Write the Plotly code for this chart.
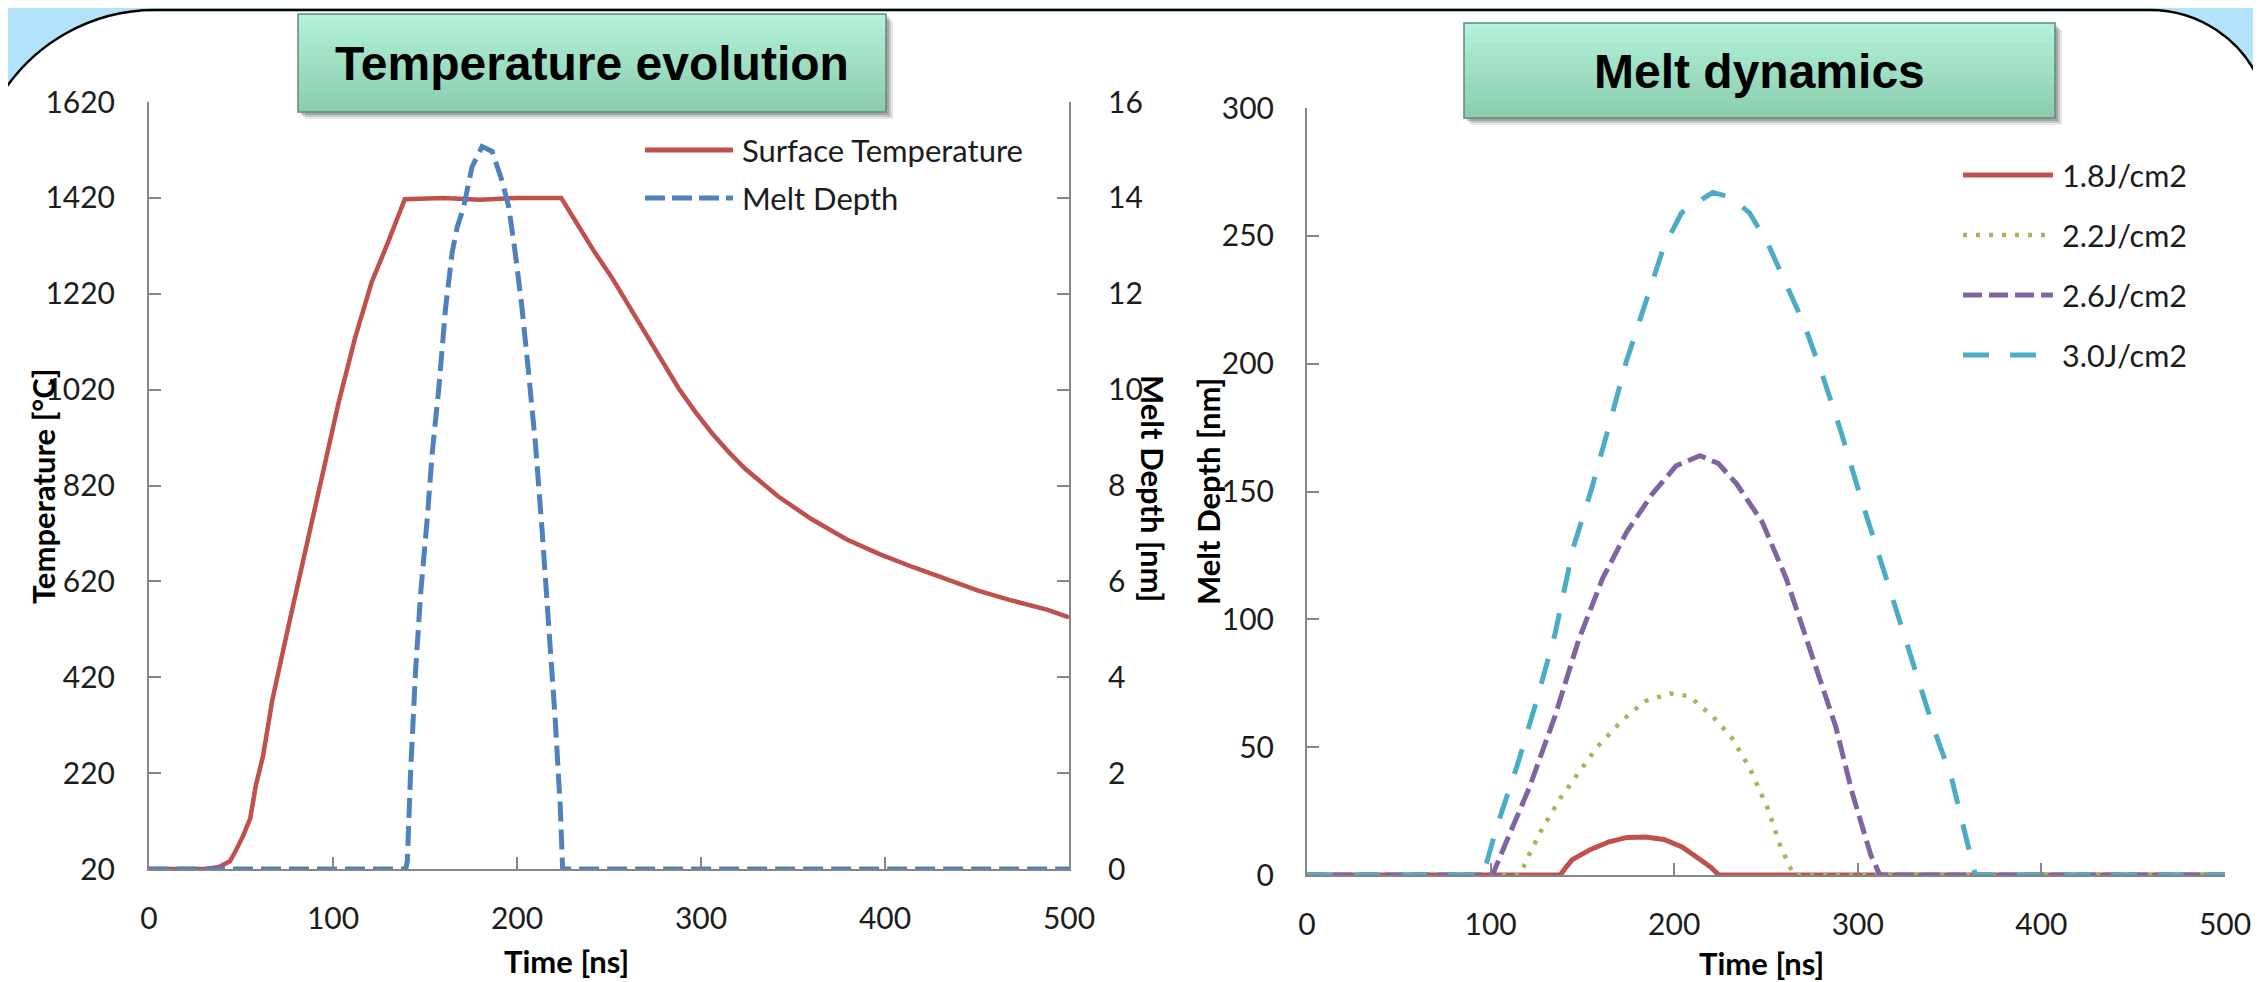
import plotly.graph_objects as go

# target screenshot size and page offset (default body margin of the html page)
W, H = 2261, 982
OFF = 8
FW, FH = W - OFF, H - OFF

# ---------------- data: left chart ----------------
temp_time = [0, 31, 38, 44, 47, 51, 55, 58, 62, 67, 76, 85, 94, 103, 112, 121, 130, 139,
             160, 180, 200, 224, 233, 242, 251.5, 260.5, 269.7, 278.8, 287.8, 297, 306, 315,
             324, 342, 360, 379, 397, 415, 433, 451, 469, 488, 500]
temp_vals = [20, 20, 24, 36, 57, 88, 125, 193, 256, 372, 530, 687, 834, 992, 1128, 1244, 1328, 1417,
             1420, 1416, 1420, 1420, 1364, 1308, 1254, 1197, 1139, 1080, 1023, 973, 929, 890,
             855, 797, 750, 708, 677, 650, 624, 600, 580, 561, 545]

melt_time = [0, 139.5, 140.4, 142.2, 144.9, 147.6, 151.2, 153.9, 157.5, 161.2, 164.8, 167.5, 171,
             175.6, 181, 186.5, 192, 195.5, 199, 202.7, 206.3, 210, 213.6, 217.2, 220.8, 223.5,
             224.8, 500]
melt_vals = [0, 0, 0.16, 2.05, 4.15, 5.73, 7.3, 8.67, 10.03, 11.71, 12.87, 13.39, 13.81,
             14.65, 15.07, 14.97, 14.34, 13.81, 12.87, 11.71, 10.35, 8.88, 7.09, 5.2, 3.1, 1.31,
             0, 0]

# ---------------- data: right chart ----------------
t18 = [0, 138, 141, 144.5, 154.5, 164.5, 174.4, 184.4, 194.4, 204.3, 214.3, 220, 224.3, 500]
d18 = [0, 0, 3, 6, 10, 13, 14.7, 14.9, 13.9, 11, 6, 3, 0, 0]

t22 = [0, 116, 121, 128, 138, 148, 158, 171, 184, 198, 208, 221, 231, 241, 251, 257.5, 265, 500]
d22 = [0, 0, 8, 18, 30, 40, 50, 60, 68, 71, 70, 62, 54, 42, 26, 12, 0, 0]

t26 = [0, 101, 108, 121, 135, 148, 161, 174, 188, 201, 214, 224, 234, 248, 261, 274, 288, 297,
       307, 312, 500]
d26 = [0, 0, 12, 34, 62, 92, 116, 134, 149, 160, 164, 161, 153, 138, 116, 88, 58, 32,
       8, 0, 0]

t30 = [0, 96, 103, 115, 125, 135, 145, 155, 165, 174, 184, 194, 204, 221, 231, 241, 251, 261,
       271, 281, 291, 301, 311, 321, 331, 341, 351, 357, 364, 500]
d30 = [0, 0, 18, 44, 68, 94, 128, 151, 177, 201, 223, 245, 259, 267, 265, 259, 247, 231,
       215, 195, 173, 149, 126, 104, 80, 58, 38, 20, 0, 0]

temp_ticks = [20, 220, 420, 620, 820, 1020, 1220, 1420, 1620]
depth_ticks_left = [0, 2, 4, 6, 8, 10, 12, 14, 16]
depth_ticks_right = [0, 50, 100, 150, 200, 250, 300]
time_ticks = [0, 100, 200, 300, 400, 500]

left_names = ["Surface Temperature", "Melt Depth"]
right_names = ["1.8J/cm2", "2.2J/cm2", "2.6J/cm2", "3.0J/cm2"]

RED, BLUE, GREEN, PURPLE, CYAN = "#C0504D", "#4F81BD", "#9BBB59", "#8064A2", "#4BACC6"
AX = "#868686"
TXT = "#1c1c1c"
FONT = "Lato"


def px(x):
    """screen pixel x -> paper fraction"""
    return (x - OFF) / FW


def py(y):
    """screen pixel y -> paper fraction"""
    return 1 - (y - OFF) / FH


fig = go.Figure()

# left chart traces
fig.add_trace(go.Scatter(x=temp_time, y=temp_vals, mode="lines", name=left_names[0],
                         line=dict(color=RED, width=4.5), xaxis="x", yaxis="y", showlegend=False))
fig.add_trace(go.Scatter(x=melt_time, y=melt_vals, mode="lines", name=left_names[1],
                         line=dict(color=BLUE, width=5, dash="20px,8px"), xaxis="x", yaxis="y2",
                         showlegend=False))

# right chart traces
styles = [dict(color=RED, width=5),
          dict(color=GREEN, width=4.5, dash="4px,9px"),
          dict(color=PURPLE, width=5, dash="19px,7px"),
          dict(color=CYAN, width=5, dash="26px,21px")]
for name, tx, dy, st in zip(right_names, [t18, t22, t26, t30], [d18, d22, d26, d30], styles):
    fig.add_trace(go.Scatter(x=tx, y=dy, mode="lines", name=name, line=st,
                             xaxis="x3", yaxis="y3", showlegend=False))

tickfont = dict(family=FONT, size=30, color=TXT)
common = dict(showgrid=False, zeroline=False, showline=True, linecolor=AX, linewidth=2,
              ticks="inside", ticklen=12, tickwidth=2, tickcolor=AX, tickfont=tickfont,
              automargin=False)

fig.update_layout(
    width=FW, height=FH,
    margin=dict(l=0, r=0, t=0, b=0, pad=0, autoexpand=False),
    paper_bgcolor="#B3E3FA",
    plot_bgcolor="rgba(0,0,0,0)",
    showlegend=False,
    xaxis=dict(domain=[px(149), px(1069)], range=[0, 500], tickvals=time_ticks,
               anchor="y", ticklabelstandoff=22, **common),
    yaxis=dict(domain=[py(869), py(102)], range=[20, 1620], tickvals=temp_ticks,
               anchor="x", ticklabelstandoff=26, **common),
    yaxis2=dict(overlaying="y", side="right", range=[0, 16], tickvals=depth_ticks_left,
                anchor="x", ticklabelstandoff=31, **common),
    xaxis3=dict(domain=[px(1307), px(2225)], range=[0, 500], tickvals=time_ticks,
                anchor="y3", ticklabelstandoff=22, **common),
    yaxis3=dict(domain=[py(875), py(108)], range=[0, 300], tickvals=depth_ticks_right,
                anchor="x3", ticklabelstandoff=25, **common),
)

shapes = []

# white rounded panel with black outline
panel = (f"M {px(0)},{py(97)} C {px(33)},{py(43)} {px(91.7)},{py(10)} {px(155)},{py(10)} "
         f"L {px(2150)},{py(10)} C {px(2198.6)},{py(10)} {px(2242.6)},{py(39.4)} {px(2261)},{py(84.4)} "
         f"L {px(2270)},{py(990)} L {px(-5)},{py(990)} Z")
shapes.append(dict(type="path", path=panel, xref="paper", yref="paper", layer="below",
                   fillcolor="white", line=dict(color="black", width=2.5)))


def title_box(x0, y0, x1, y1):
    out = []
    # shadow
    for off, op in [(7, 0.12), (5, 0.18), (3, 0.25)]:
        out.append(dict(type="rect", xref="paper", yref="paper", layer="above",
                        x0=px(x0 + off), x1=px(x1 + off), y0=py(y1 + off), y1=py(y0 + off),
                        fillcolor=f"rgba(60,60,60,{op})", line=dict(width=0)))
    # vertical gradient
    top = (178, 242, 218)
    bot = (139, 205, 174)
    n = 14
    for i in range(n):
        f = i / (n - 1)
        c = tuple(int(round(top[k] + (bot[k] - top[k]) * f)) for k in range(3))
        ya = y0 + (y1 - y0) * i / n
        yb = y0 + (y1 - y0) * (i + 1) / n
        out.append(dict(type="rect", xref="paper", yref="paper", layer="above",
                        x0=px(x0), x1=px(x1), y0=py(yb + 0.5), y1=py(ya),
                        fillcolor=f"rgb{c}", line=dict(width=0)))
    out.append(dict(type="rect", xref="paper", yref="paper", layer="above",
                    x0=px(x0), x1=px(x1), y0=py(y1), y1=py(y0),
                    fillcolor="rgba(0,0,0,0)", line=dict(color="#5E8C78", width=1.5)))
    return out


shapes += title_box(298, 14, 886, 112)
shapes += title_box(1464, 23, 2055, 118)


# legend samples
def leg_line(x0, x1, y, st):
    return dict(type="line", xref="paper", yref="paper", layer="above",
                x0=px(x0), x1=px(x1), y0=py(y), y1=py(y), line=st)


shapes.append(leg_line(645, 733, 150, dict(color=RED, width=5)))
shapes.append(leg_line(645, 733, 198, dict(color=BLUE, width=5, dash="20px,7px")))
for yy, st in zip([175, 235, 295, 355], styles):
    shapes.append(leg_line(1963, 2053, yy, st))

fig.update_layout(shapes=shapes)

ann = []
boxfont = dict(family="Liberation Sans, Arial", size=48, color="black", weight="bold")
ann.append(dict(text="Temperature evolution", x=px(592), y=py(64), xref="paper", yref="paper",
                showarrow=False, font=boxfont, xanchor="center", yanchor="middle"))
ann.append(dict(text="Melt dynamics", x=px(1759), y=py(72), xref="paper", yref="paper",
                showarrow=False, font=boxfont, xanchor="center", yanchor="middle"))

legfont = dict(family=FONT, size=31, color=TXT)
for name, yy in zip(left_names, [150, 198]):
    ann.append(dict(text=name, x=px(740), y=py(yy), xref="paper", yref="paper", showarrow=False,
                    font=legfont, xanchor="left", yanchor="middle"))
legfont2 = dict(family=FONT, size=30.5, color=TXT)
for name, yy in zip(right_names, [175, 235, 295, 355]):
    ann.append(dict(text=name, x=px(2060), y=py(yy), xref="paper", yref="paper", showarrow=False,
                    font=legfont2, xanchor="left", yanchor="middle"))

tfont = dict(family=FONT, size=31, color="black", weight="bold")
ann.append(dict(text="Time [ns]", x=px(566), y=py(961), xref="paper", yref="paper",
                showarrow=False, font=tfont, xanchor="center", yanchor="middle"))
ann.append(dict(text="Time [ns]", x=px(1761), y=py(963), xref="paper", yref="paper",
                showarrow=False, font=tfont, xanchor="center", yanchor="middle"))
ann.append(dict(text="Temperature [°C]", x=px(43), y=py(487), xref="paper", yref="paper",
                showarrow=False, font=tfont, textangle=-90, xanchor="center", yanchor="middle"))
ann.append(dict(text="Melt Depth [nm]", x=px(1153), y=py(488), xref="paper", yref="paper",
                showarrow=False, font=tfont, textangle=90, xanchor="center", yanchor="middle"))
ann.append(dict(text="Melt Depth [nm]", x=px(1208), y=py(492), xref="paper", yref="paper",
                showarrow=False, font=tfont, textangle=-90, xanchor="center", yanchor="middle"))

fig.update_layout(annotations=ann)

fig.write_html("out.html")
